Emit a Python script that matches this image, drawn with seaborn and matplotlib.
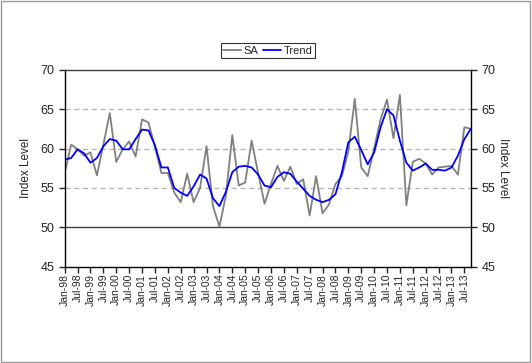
import numpy as np
import pandas as pd
import matplotlib
matplotlib.use("Agg")
import matplotlib.pyplot as plt
import seaborn as sns

# Quarterly index values, Jan-98 .. Oct-13
sa = [56.9, 60.5, 59.9, 59.1, 59.5, 56.6, 60.5, 64.5, 58.3, 59.9,
      60.9, 59.0, 63.7, 63.3, 60.2, 56.9, 56.9, 54.4, 53.2, 56.8,
      53.2, 55.0, 60.3, 52.7, 50.1, 54.0, 61.7, 55.3, 55.7, 61.0,
      56.9, 53.0, 55.5, 57.8, 55.9, 57.7, 55.5, 56.1, 51.5, 56.5,
      51.8, 52.9, 55.5, 56.5, 59.6, 66.3, 57.6, 56.5, 60.0, 63.7,
      66.2, 61.3, 66.8, 52.8, 58.3, 58.7, 58.1, 56.7, 57.6, 57.7,
      57.8, 56.7, 62.7, 62.5]
trend = [58.6, 58.8, 59.9, 59.4, 58.2, 58.8, 60.3, 61.2, 61.0, 59.9,
         59.9, 61.2, 62.4, 62.3, 60.4, 57.6, 57.6, 55.0, 54.4, 54.0,
         55.2, 56.7, 56.2, 53.7, 52.7, 54.5, 57.0, 57.7, 57.8, 57.6,
         56.7, 55.3, 55.1, 56.4, 57.0, 56.8, 55.8, 54.9, 54.0, 53.5,
         53.2, 53.5, 54.2, 57.0, 60.8, 61.5, 59.8, 58.0, 59.5, 62.7,
         65.0, 64.2, 61.0, 58.2, 57.2, 57.6, 58.1, 57.3, 57.3, 57.2,
         57.6, 59.1, 61.2, 62.5]
tick_labels = [f"{m}-{y:02d}" for y in list(range(98, 100)) + list(range(0, 14))
               for m in ("Jan", "Jul")]
yticks = [45, 50, 55, 60, 65, 70]

sns.set_theme(style="white")
plt.rcParams["font.family"] = ["Liberation Sans", "DejaVu Sans"]

df = pd.DataFrame({"q": np.arange(len(sa)), "SA": sa, "Trend": trend})

fig = plt.figure(figsize=(5.32, 3.63), dpi=100)
ax = fig.add_axes([0.1216, 0.265, 0.7634, 0.543])

# gridlines: dashed at 55/60/65, solid at 50
for y in [55, 60, 65]:
    ax.axhline(y, color="#b0b0b0", lw=0.9, ls=(0, (4, 3)), zorder=0)
ax.axhline(50, color="#404040", lw=1.0, zorder=0)

sns.lineplot(data=df, x="q", y="SA", ax=ax, color="#808080", lw=1.3, label="SA")
sns.lineplot(data=df, x="q", y="Trend", ax=ax, color="#0000ff", lw=1.3, label="Trend")

ax.set_xlim(0, len(sa) - 1)
ax.set_ylim(45, 70)
ax.set_yticks(yticks)
ax.set_xticks(np.arange(0, len(sa), 2))
ax.set_xticklabels(tick_labels, rotation=90, fontsize=7.5)
ax.tick_params(axis="y", labelsize=9, length=4, width=1, direction="out", left=True)
ax.tick_params(axis="x", length=4, width=1, direction="out", bottom=True, pad=1)
ax.set_xlabel("")
ax.set_ylabel("Index Level", fontsize=8.5, labelpad=6)
for s in ax.spines.values():
    s.set_color("black")
    s.set_linewidth(1.0)
ax.spines["top"].set_color("#404040")

ax2 = ax.twinx()
ax2.set_ylim(45, 70)
ax2.set_yticks(yticks)
ax2.tick_params(axis="y", labelsize=9, length=4, width=1, direction="out", right=True)
ax2.set_ylabel("Index Level", fontsize=8.5, rotation=270, labelpad=10)
for s in ax2.spines.values():
    s.set_visible(False)

leg = ax.legend(loc="lower center", bbox_to_anchor=(0.5, 1.06), ncol=2, fontsize=8,
                frameon=True, fancybox=False, shadow=False, handlelength=1.6,
                columnspacing=0.4, handletextpad=0.25, borderpad=0.2,
                borderaxespad=0)
leg.get_frame().set_edgecolor("black")
leg.get_frame().set_linewidth(0.8)

fig.patches.append(plt.Rectangle((0.002, 0.003), 0.995, 0.994, transform=fig.transFigure,
                                 fill=False, edgecolor="#999999", lw=1))

fig.savefig("out.png", dpi=100)
